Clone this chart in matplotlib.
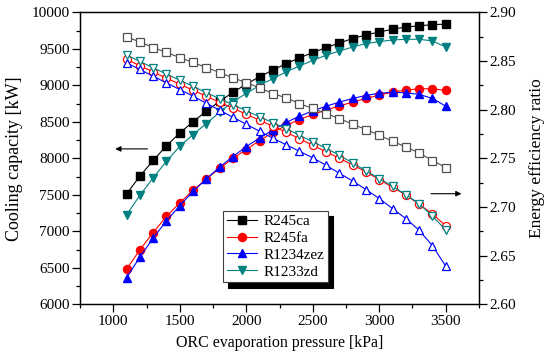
import matplotlib
matplotlib.use('Agg')
import matplotlib.pyplot as plt
from matplotlib.ticker import MultipleLocator, FormatStrFormatter

# ORC evaporation pressure [kPa]
pressure = [1100, 1200, 1300, 1400, 1500, 1600, 1700, 1800, 1900, 2000,
            2100, 2200, 2300, 2400, 2500, 2600, 2700, 2800, 2900, 3000,
            3100, 3200, 3300, 3400, 3500]

# Cooling capacity [kW] (left axis, filled markers)
cap_r245ca = [7512, 7757, 7972, 8173, 8348, 8503, 8647, 8785, 8904, 9019,
              9120, 9211, 9299, 9379, 9450, 9519, 9582, 9643, 9692, 9733,
              9770, 9802, 9816, 9835, 9839]
cap_r245fa = [6481, 6746, 6984, 7204, 7392, 7561, 7718, 7864, 8000, 8121,
              8245, 8355, 8451, 8533, 8602, 8664, 8719, 8771, 8822, 8867,
              8909, 8936, 8955, 8955, 8931]
cap_r1234zez = [6366, 6646, 6907, 7145, 7351, 7548, 7718, 7883, 8025, 8162,
                8279, 8389, 8492, 8579, 8650, 8716, 8771, 8822, 8863, 8893,
                8907, 8898, 8877, 8822, 8716]
cap_r1233zd = [7227, 7493, 7732, 7960, 8166, 8327, 8478, 8634, 8777, 8891,
               9001, 9094, 9186, 9266, 9344, 9413, 9472, 9527, 9574, 9601,
               9623, 9633, 9633, 9610, 9527]

# Energy efficiency ratio (right axis, open markers)
eer_r245ca = [2.8749, 2.8698, 2.8640, 2.8589, 2.8537, 2.8486, 2.8434, 2.8383,
              2.8327, 2.8280, 2.8225, 2.8167, 2.8122, 2.8064, 2.8013, 2.7961,
              2.7910, 2.7851, 2.7797, 2.7738, 2.7676, 2.7618, 2.7556, 2.7478,
              2.7406]
eer_r245fa = [2.8517, 2.8453, 2.8389, 2.8325, 2.8263, 2.8201, 2.8139, 2.8077,
              2.8016, 2.7954, 2.7892, 2.7831, 2.7769, 2.7702, 2.7635, 2.7568,
              2.7501, 2.7433, 2.7361, 2.7282, 2.7203, 2.7124, 2.7028, 2.6929,
              2.6807]
eer_r1234zez = [2.8482, 2.8414, 2.8345, 2.8276, 2.8208, 2.8139, 2.8067, 2.7995,
                2.7923, 2.7851, 2.7779, 2.7707, 2.7640, 2.7573, 2.7507, 2.7429,
                2.7347, 2.7268, 2.7180, 2.7087, 2.6984, 2.6881, 2.6761, 2.6602,
                2.6391]
eer_r1233zd = [2.8561, 2.8497, 2.8432, 2.8367, 2.8304, 2.8240, 2.8176, 2.8113,
               2.8052, 2.7990, 2.7928, 2.7867, 2.7805, 2.7738, 2.7671, 2.7604,
               2.7532, 2.7453, 2.7373, 2.7293, 2.7214, 2.7128, 2.7034, 2.6905,
               2.6766]

labels = ['R245ca', 'R245fa', 'R1234zez', 'R1233zd']

plt.rcParams['font.family'] = ['Liberation Serif', 'DejaVu Serif']
plt.rcParams['mathtext.fontset'] = 'stix'

fig = plt.figure(figsize=(5.5, 3.61), dpi=100)
ax = fig.add_axes([0.1455, 0.1571, 0.7254, 0.8083])
ax2 = ax.twinx()

TEAL = '#008080'
lw = 0.8

# filled (cooling capacity)
h1, = ax.plot(pressure, cap_r245ca, color='black', lw=lw, marker='s', ms=5.2,
              mfc='black', mec='black', label=labels[0])
h2, = ax.plot(pressure, cap_r245fa, color='red', lw=lw, marker='o', ms=5.8,
              mfc='red', mec='red', label=labels[1])
h3, = ax.plot(pressure, cap_r1234zez, color='blue', lw=lw, marker='^', ms=6.2,
              mfc='blue', mec='blue', label=labels[2])
h4, = ax.plot(pressure, cap_r1233zd, color=TEAL, lw=lw, marker='v', ms=6.2,
              mfc=TEAL, mec=TEAL, label=labels[3])

# open (EER)
ax2.plot(pressure, eer_r245ca, color='#505050', lw=lw, marker='s', ms=5.2,
         mfc='white', mec='#505050', mew=0.9)
ax2.plot(pressure, eer_r245fa, color='red', lw=lw, marker='o', ms=5.8,
         mfc='white', mec='red', mew=0.9)
ax2.plot(pressure, eer_r1234zez, color='blue', lw=lw, marker='^', ms=6.2,
         mfc='white', mec='blue', mew=0.9)
ax2.plot(pressure, eer_r1233zd, color=TEAL, lw=lw, marker='v', ms=6.2,
         mfc='white', mec=TEAL, mew=0.9)

ax.set_xlim(750, 3750)
ax.set_ylim(6000, 10000)
ax2.set_ylim(2.60, 2.90)

ax.xaxis.set_major_locator(MultipleLocator(500))
ax.xaxis.set_minor_locator(MultipleLocator(250))
ax.yaxis.set_major_locator(MultipleLocator(500))
ax.yaxis.set_minor_locator(MultipleLocator(250))
ax2.yaxis.set_major_locator(MultipleLocator(0.05))
ax2.yaxis.set_minor_locator(MultipleLocator(0.025))
ax2.yaxis.set_major_formatter(FormatStrFormatter('%.2f'))

for a in (ax, ax2):
    for s in a.spines.values():
        s.set_linewidth(0.9)
    a.tick_params(which='major', direction='out', length=5.5, width=0.9,
                  labelsize=11, pad=2)
    a.tick_params(which='minor', direction='out', length=3, width=0.9)

ax.tick_params(axis='x', which='both', top=False)
ax.tick_params(axis='y', which='both', right=False)
ax2.tick_params(axis='y', which='both', left=False, right=True)

ax.set_xlabel('ORC evaporation pressure [kPa]', fontsize=11.5, labelpad=5)
ax.set_ylabel('Cooling capacity [kW]', fontsize=13, labelpad=6)
ax2.set_ylabel('Energy efficiency ratio', fontsize=12.5, labelpad=9)

# arrows indicating axis association
ax.annotate('', xy=(1015, 8130), xytext=(1257, 8130),
            arrowprops=dict(arrowstyle='-|>', color='black', lw=0.8,
                            mutation_scale=8, shrinkA=0, shrinkB=0))
ax.annotate('', xy=(3618, 7516), xytext=(3389, 7516),
            arrowprops=dict(arrowstyle='-|>', color='black', lw=0.8,
                            mutation_scale=8, shrinkA=0, shrinkB=0))

leg = ax2.legend(handles=[h1, h2, h3, h4], loc='lower left',
                 bbox_to_anchor=(0.358, 0.075), borderaxespad=0,
                 fontsize=11, frameon=True, fancybox=False,
                 shadow={'ox': 4, 'oy': -4, 'color': 'black', 'alpha': 1},
                 handlelength=2.0, handletextpad=0.4, labelspacing=0.2,
                 borderpad=0.25)
leg.get_frame().set_edgecolor('#404040')
leg.get_frame().set_linewidth(0.8)

fig.savefig('out.png', dpi=100)
